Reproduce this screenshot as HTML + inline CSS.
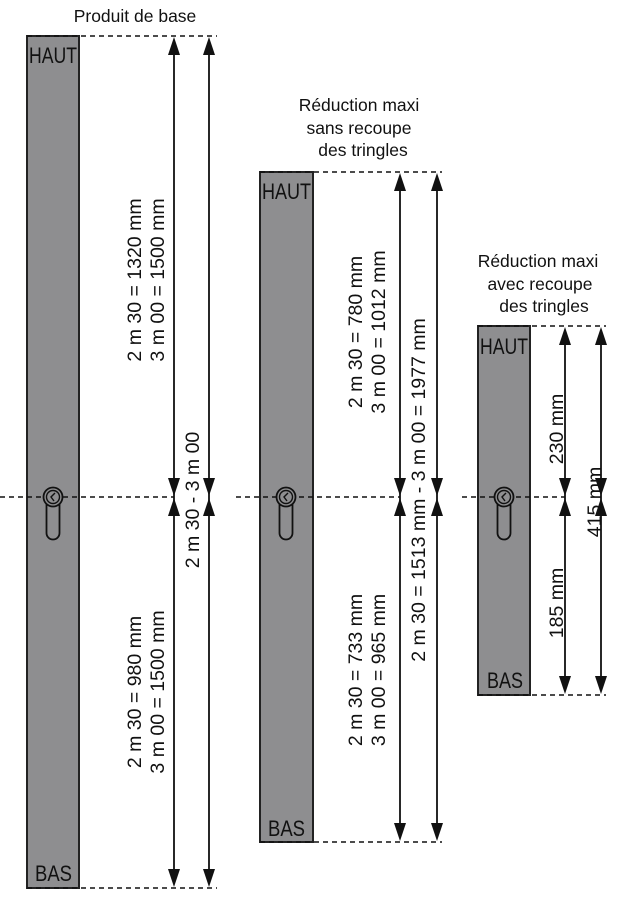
<!DOCTYPE html>
<html><head><meta charset="utf-8"><style>
html,body{margin:0;padding:0;background:#fff}
svg{display:block}
text{font-family:"Liberation Sans",Arial,sans-serif;fill:#111}
</style></head><body>
<svg width="629" height="898" viewBox="0 0 629 898" xmlns="http://www.w3.org/2000/svg">
<defs>
<g id="kh">
<path d="M-6.5,4 L-6.5,36 A6.5,6.5 0 0 0 6.5,36 L6.5,4" fill="#8e8e90" stroke="#111" stroke-width="1.8"/>
<circle cx="0" cy="0" r="9.5" fill="#8e8e90" stroke="#111" stroke-width="1.8"/>
<circle cx="0" cy="0" r="6.5" fill="none" stroke="#111" stroke-width="1.4"/>
<path d="M2,-4 L-2,0 L1,4" fill="none" stroke="#111" stroke-width="1.4"/>
</g>
</defs>
<rect x="27" y="36" width="52" height="852" fill="#8e8e90" stroke="#222" stroke-width="2"/>
<rect x="260" y="172" width="53" height="670" fill="#8e8e90" stroke="#222" stroke-width="2"/>
<rect x="478" y="326" width="52" height="369" fill="#8e8e90" stroke="#222" stroke-width="2"/>
<g stroke="#111" stroke-width="1.6" stroke-dasharray="5,4" fill="none">
<line x1="27" y1="36" x2="217" y2="36"/><line x1="27" y1="888" x2="217" y2="888"/>
<line x1="0" y1="497" x2="174" y2="497"/>
<line x1="260" y1="172" x2="442" y2="172"/><line x1="260" y1="842" x2="442" y2="842"/>
<line x1="236" y1="497" x2="400" y2="497"/>
<line x1="478" y1="326" x2="606" y2="326"/><line x1="478" y1="695" x2="606" y2="695"/>
<line x1="462" y1="497" x2="565" y2="497"/>
</g>
<use href="#kh" x="53" y="497"/>
<use href="#kh" x="286" y="497"/>
<use href="#kh" x="504" y="497"/>
<g stroke="#111" stroke-width="1.8">
<line x1="174" y1="40" x2="174" y2="884"/><line x1="209" y1="40" x2="209" y2="884"/>
<line x1="400" y1="176" x2="400" y2="838"/><line x1="437" y1="176" x2="437" y2="838"/>
<line x1="565" y1="330" x2="565" y2="691"/><line x1="601" y1="330" x2="601" y2="691"/>
</g>
<g fill="#111">
<path d="M174,37 l-6,18 h12z M209,37 l-6,18 h12z M174,498 l-6,18 h12z M209,498 l-6,18 h12z"/>
<path d="M174,496 l-6,-18 h12z M209,496 l-6,-18 h12z M174,887 l-6,-18 h12z M209,887 l-6,-18 h12z"/>
<path d="M400,173 l-6,18 h12z M437,173 l-6,18 h12z M400,498 l-6,18 h12z M437,498 l-6,18 h12z"/>
<path d="M400,496 l-6,-18 h12z M437,496 l-6,-18 h12z M400,841 l-6,-18 h12z M437,841 l-6,-18 h12z"/>
<path d="M565,327 l-6,18 h12z M601,327 l-6,18 h12z M565,498 l-6,18 h12z M601,498 l-6,18 h12z"/>
<path d="M565,496 l-6,-18 h12z M601,496 l-6,-18 h12z M565,694 l-6,-18 h12z M601,694 l-6,-18 h12z"/>
</g>
<g font-size="22">
<text x="29" y="63" textLength="48" lengthAdjust="spacingAndGlyphs">HAUT</text>
<text x="35" y="881" textLength="37" lengthAdjust="spacingAndGlyphs">BAS</text>
<text x="262" y="199" textLength="49" lengthAdjust="spacingAndGlyphs">HAUT</text>
<text x="268" y="836" textLength="37" lengthAdjust="spacingAndGlyphs">BAS</text>
<text x="480" y="354" textLength="48" lengthAdjust="spacingAndGlyphs">HAUT</text>
<text x="487" y="688" textLength="36" lengthAdjust="spacingAndGlyphs">BAS</text>
</g>
<g font-size="17.5" text-anchor="middle">
<text x="135" y="22">Produit de base</text>
<text x="359" y="111">Réduction maxi</text>
<text x="359" y="134">sans recoupe</text>
<text x="363" y="156">des tringles</text>
<text x="538" y="267">Réduction maxi</text>
<text x="540" y="290">avec recoupe</text>
<text x="544" y="312">des tringles</text>
</g>
<g font-size="19.5" text-anchor="middle">
<text transform="translate(141,280) rotate(-90)">2 m 30 = 1320 mm</text>
<text transform="translate(164,280) rotate(-90)">3 m 00 = 1500 mm</text>
<text transform="translate(141,692) rotate(-90)">2 m 30 = 980 mm</text>
<text transform="translate(164,692) rotate(-90)">3 m 00 = 1500 mm</text>
<text transform="translate(199,500) rotate(-90)">2 m 30 - 3 m 00</text>
<text transform="translate(362,332) rotate(-90)">2 m 30 = 780 mm</text>
<text transform="translate(385,332) rotate(-90)">3 m 00 = 1012 mm</text>
<text transform="translate(362,670) rotate(-90)">2 m 30 = 733 mm</text>
<text transform="translate(385,670) rotate(-90)">3 m 00 = 965 mm</text>
<text transform="translate(425,490) rotate(-90)">2 m 30 = 1513 mm - 3 m 00 = 1977 mm</text>
<text transform="translate(563,429) rotate(-90)">230 mm</text>
<text transform="translate(563,603) rotate(-90)">185 mm</text>
<text transform="translate(601,502) rotate(-90)">415 mm</text>
</g>
</svg>
</body></html>
